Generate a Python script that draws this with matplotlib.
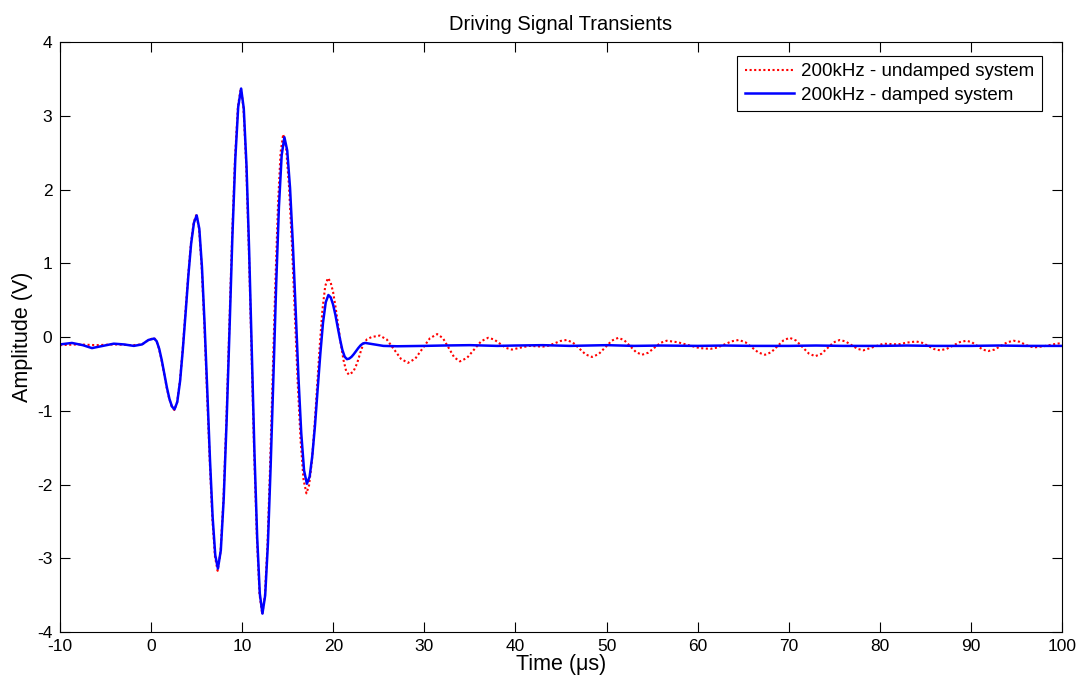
import numpy as np
import matplotlib
matplotlib.use("Agg")
from matplotlib import pyplot as plt

plt.rcParams['font.family'] = ['Liberation Sans', 'DejaVu Sans']
plt.rcParams['axes.unicode_minus'] = False

# time (us) / amplitude (V) - damped system (blue)
t_damped = [-10, -8.7, -7.5, -6.5, -5.3, -4.1, -3.0, -1.9, -1.0, -0.3,
            0.33, 0.61, 0.89, 1.17, 1.45, 1.73, 2.01, 2.29,
            2.57, 2.87, 3.18, 3.48, 3.79, 4.09, 4.39, 4.70,
            5.00, 5.29, 5.58, 5.87, 6.17, 6.46, 6.75, 7.04,
            7.33, 7.65, 7.97, 8.29, 8.61, 8.92, 9.24, 9.56,
            9.88, 10.17, 10.47, 10.76, 11.05, 11.34, 11.64, 11.93,
            12.22, 12.52, 12.82, 13.12, 13.43, 13.73, 14.03, 14.33,
            14.63, 14.94, 15.25, 15.56, 15.87, 16.17, 16.48, 16.79,
            17.10, 17.40, 17.69, 17.99, 18.28, 18.58, 18.87, 19.17,
            19.46, 19.72, 19.97, 20.23, 20.48, 20.74, 20.99, 21.25,
            21.5, 21.75, 22.0, 22.25, 22.5, 22.75, 23.0, 23.25, 23.5,
            24.5, 25.5, 27, 30, 32, 35, 38, 40, 43, 46, 50, 53, 56,
            60, 63, 66, 70, 73, 76, 80, 83, 86, 90, 93, 96, 100]
v_damped = [-0.10, -0.08, -0.11, -0.15, -0.12, -0.09, -0.10, -0.12, -0.10, -0.04,
            -0.02, -0.057, -0.161, -0.316, -0.50, -0.684, -0.839, -0.943,
            -0.98, -0.880, -0.595, -0.168, 0.335, 0.838, 1.265, 1.550,
            1.65, 1.468, 0.949, 0.171, -0.745, -1.661, -2.439, -2.957,
            -3.14, -2.892, -2.187, -1.130, 0.115, 1.360, 2.417, 3.122,
            3.37, 3.099, 2.328, 1.172, -0.19, -1.552, -2.708, -3.479,
            -3.75, -3.504, -2.804, -1.756, -0.52, 0.716, 1.764, 2.464,
            2.71, 2.531, 2.022, 1.259, 0.36, -0.539, -1.302, -1.811,
            -1.99, -1.893, -1.615, -1.20, -0.71, -0.22, 0.195, 0.472,
            0.57, 0.537, 0.443, 0.301, 0.135, -0.031, -0.173, -0.267,
            -0.30, -0.292, -0.268, -0.232, -0.19, -0.148, -0.112, -0.088, -0.08,
            -0.10, -0.12, -0.125, -0.12, -0.115, -0.11, -0.12, -0.115, -0.11, -0.12, -0.11, -0.12, -0.115,
            -0.12, -0.115, -0.12, -0.12, -0.115, -0.12, -0.12, -0.115, -0.12, -0.12, -0.115, -0.12, -0.12]

# undamped system (red dotted)
t_undamped = [-10, -8, -6, -4, -2, -1, -0.4,
              0.3, 0.58, 0.86, 1.14, 1.42, 1.70, 1.98, 2.26,
              2.55, 2.85, 3.16, 3.46, 3.77, 4.07, 4.37, 4.68,
              4.97, 5.26, 5.55, 5.84, 6.14, 6.43, 6.72, 7.01,
              7.30, 7.62, 7.94, 8.26, 8.58, 8.89, 9.21, 9.53,
              9.85, 10.14, 10.44, 10.73, 11.02, 11.31, 11.61, 11.90,
              12.2, 12.49, 12.78, 13.06, 13.35, 13.64, 13.93, 14.21,
              14.5, 14.82, 15.14, 15.46, 15.78, 16.09, 16.41, 16.73,
              17.05, 17.34, 17.64, 17.93, 18.23, 18.52, 18.81, 19.11,
              19.4, 19.69, 19.98, 20.26, 20.55, 20.84, 21.13, 21.41,
              21.7, 22.2, 22.6, 23.0, 23.3, 23.7, 24.2,
              25.1, 25.88, 26.65, 27.43,
              28.2, 29.0, 29.8, 30.6,
              31.4, 32.03, 32.65, 33.28,
              33.9, 34.68, 35.45, 36.23,
              37.0, 37.65, 38.3, 38.95,
              39.6, 40.5, 41.5, 42.3, 43.0, 43.65, 44.3, 44.95,
              45.6, 46.3, 47.0, 47.7,
              48.4, 49.13, 49.85, 50.58,
              51.3, 51.95, 52.6, 53.25,
              53.9, 54.58, 55.25, 55.93,
              56.6, 57.8, 59.0, 60.2,
              61.4, 62.18, 62.95, 63.73,
              64.5, 65.23, 65.95, 66.68,
              67.4, 68.08, 68.75, 69.43,
              70.1, 70.8, 71.5, 72.2,
              72.9, 73.58, 74.25, 74.93,
              75.6, 76.25, 76.9, 77.55,
              78.2, 79.3, 80.4, 82.0, 83.0,
              84.0, 84.65, 85.3, 85.95,
              86.6, 87.33, 88.05, 88.78,
              89.5, 90.1, 90.7, 91.3,
              91.9, 92.6, 93.3, 94.0,
              94.7, 95.3, 95.85, 96.4,
              97.0, 98.0, 99.0, 100]
v_undamped = [-0.11, -0.10, -0.11, -0.10, -0.11, -0.10, -0.05,
              -0.01, -0.05, -0.155, -0.31, -0.495, -0.68, -0.835, -0.94,
              -0.99, -0.885, -0.60, -0.17, 0.335, 0.84, 1.27, 1.56,
              1.66, 1.475, 0.95, 0.17, -0.75, -1.67, -2.46, -2.98,
              -3.17, -2.91, -2.20, -1.135, 0.115, 1.365, 2.425, 3.13,
              3.38, 3.105, 2.33, 1.17, -0.195, -1.56, -2.72, -3.49,
              -3.76, -3.502, -2.798, -1.743, -0.50, 0.743, 1.798, 2.502,
              2.75, 2.564, 2.037, 1.247, 0.315, -0.617, -1.407, -1.934,
              -2.12, -2.009, -1.693, -1.219, -0.66, -0.101, 0.373, 0.689,
              0.80, 0.75, 0.608, 0.396, 0.145, -0.106, -0.318, -0.46,
              -0.51, -0.47, -0.36, -0.20, -0.09, -0.03, 0.0,
              0.02, -0.034, -0.165, -0.296,
              -0.35, -0.293, -0.155, -0.017,
              0.04, -0.014, -0.145, -0.276,
              -0.33, -0.283, -0.17, -0.057,
              -0.01, -0.033, -0.09, -0.147,
              -0.17, -0.145, -0.12, -0.125, -0.13, -0.117, -0.085, -0.053,
              -0.04, -0.074, -0.155, -0.236,
              -0.27, -0.232, -0.14, -0.048,
              -0.01, -0.044, -0.125, -0.206,
              -0.24, -0.212, -0.145, -0.078,
              -0.05, -0.07, -0.11, -0.15,
              -0.16, -0.142, -0.10, -0.058,
              -0.04, -0.069, -0.14, -0.211,
              -0.24, -0.206, -0.125, -0.044,
              -0.01, -0.047, -0.135, -0.223,
              -0.26, -0.228, -0.15, -0.072,
              -0.04, -0.06, -0.11, -0.16,
              -0.18, -0.135, -0.09, -0.10, -0.075,
              -0.06, -0.078, -0.12, -0.162,
              -0.18, -0.161, -0.115, -0.069,
              -0.05, -0.07, -0.12, -0.17,
              -0.19, -0.17, -0.12, -0.07,
              -0.05, -0.063, -0.095, -0.127,
              -0.14, -0.125, -0.10, -0.08]

xticks = np.arange(-10, 101, 10)
yticks = np.arange(-4, 5, 1)

fig = plt.figure(figsize=(10.82, 6.82), dpi=100)
ax = fig.add_axes([0.0555, 0.0733, 0.926, 0.865])

ax.plot(t_undamped, v_undamped, color='red', linestyle=(0, (1, 1.2)), linewidth=1.5,
        label='200kHz - undamped system')
ax.plot(t_damped, v_damped, color='blue', linestyle='-', linewidth=1.8,
        label='200kHz - damped system')

ax.set_xlim(-10, 100)
ax.set_ylim(-4, 4)
ax.set_xticks(xticks)
ax.set_yticks(yticks)
ax.tick_params(direction='in', length=7, width=0.8, top=True, right=True,
               labelsize=12.5, colors='black')
ax.tick_params(axis='x', pad=5)
ax.tick_params(axis='y', pad=5.5)
for s in ax.spines.values():
    s.set_linewidth(0.8)
    s.set_color('black')

ax.set_title('Driving Signal Transients', fontsize=14.5, pad=9)
ax.set_xlabel('Time (\u03bcs)', fontsize=15.5, labelpad=0)
ax.set_ylabel('Amplitude (V)', fontsize=15.5, labelpad=3)

leg = ax.legend(loc='upper right', bbox_to_anchor=(0.98, 0.977), fontsize=13.5,
                frameon=True, fancybox=False, edgecolor='black', framealpha=1,
                handlelength=2.6, handletextpad=0.4, borderpad=0.4, labelspacing=0.35,
                borderaxespad=0)
leg.get_frame().set_linewidth(0.8)

fig.savefig('out.png', dpi=100)
